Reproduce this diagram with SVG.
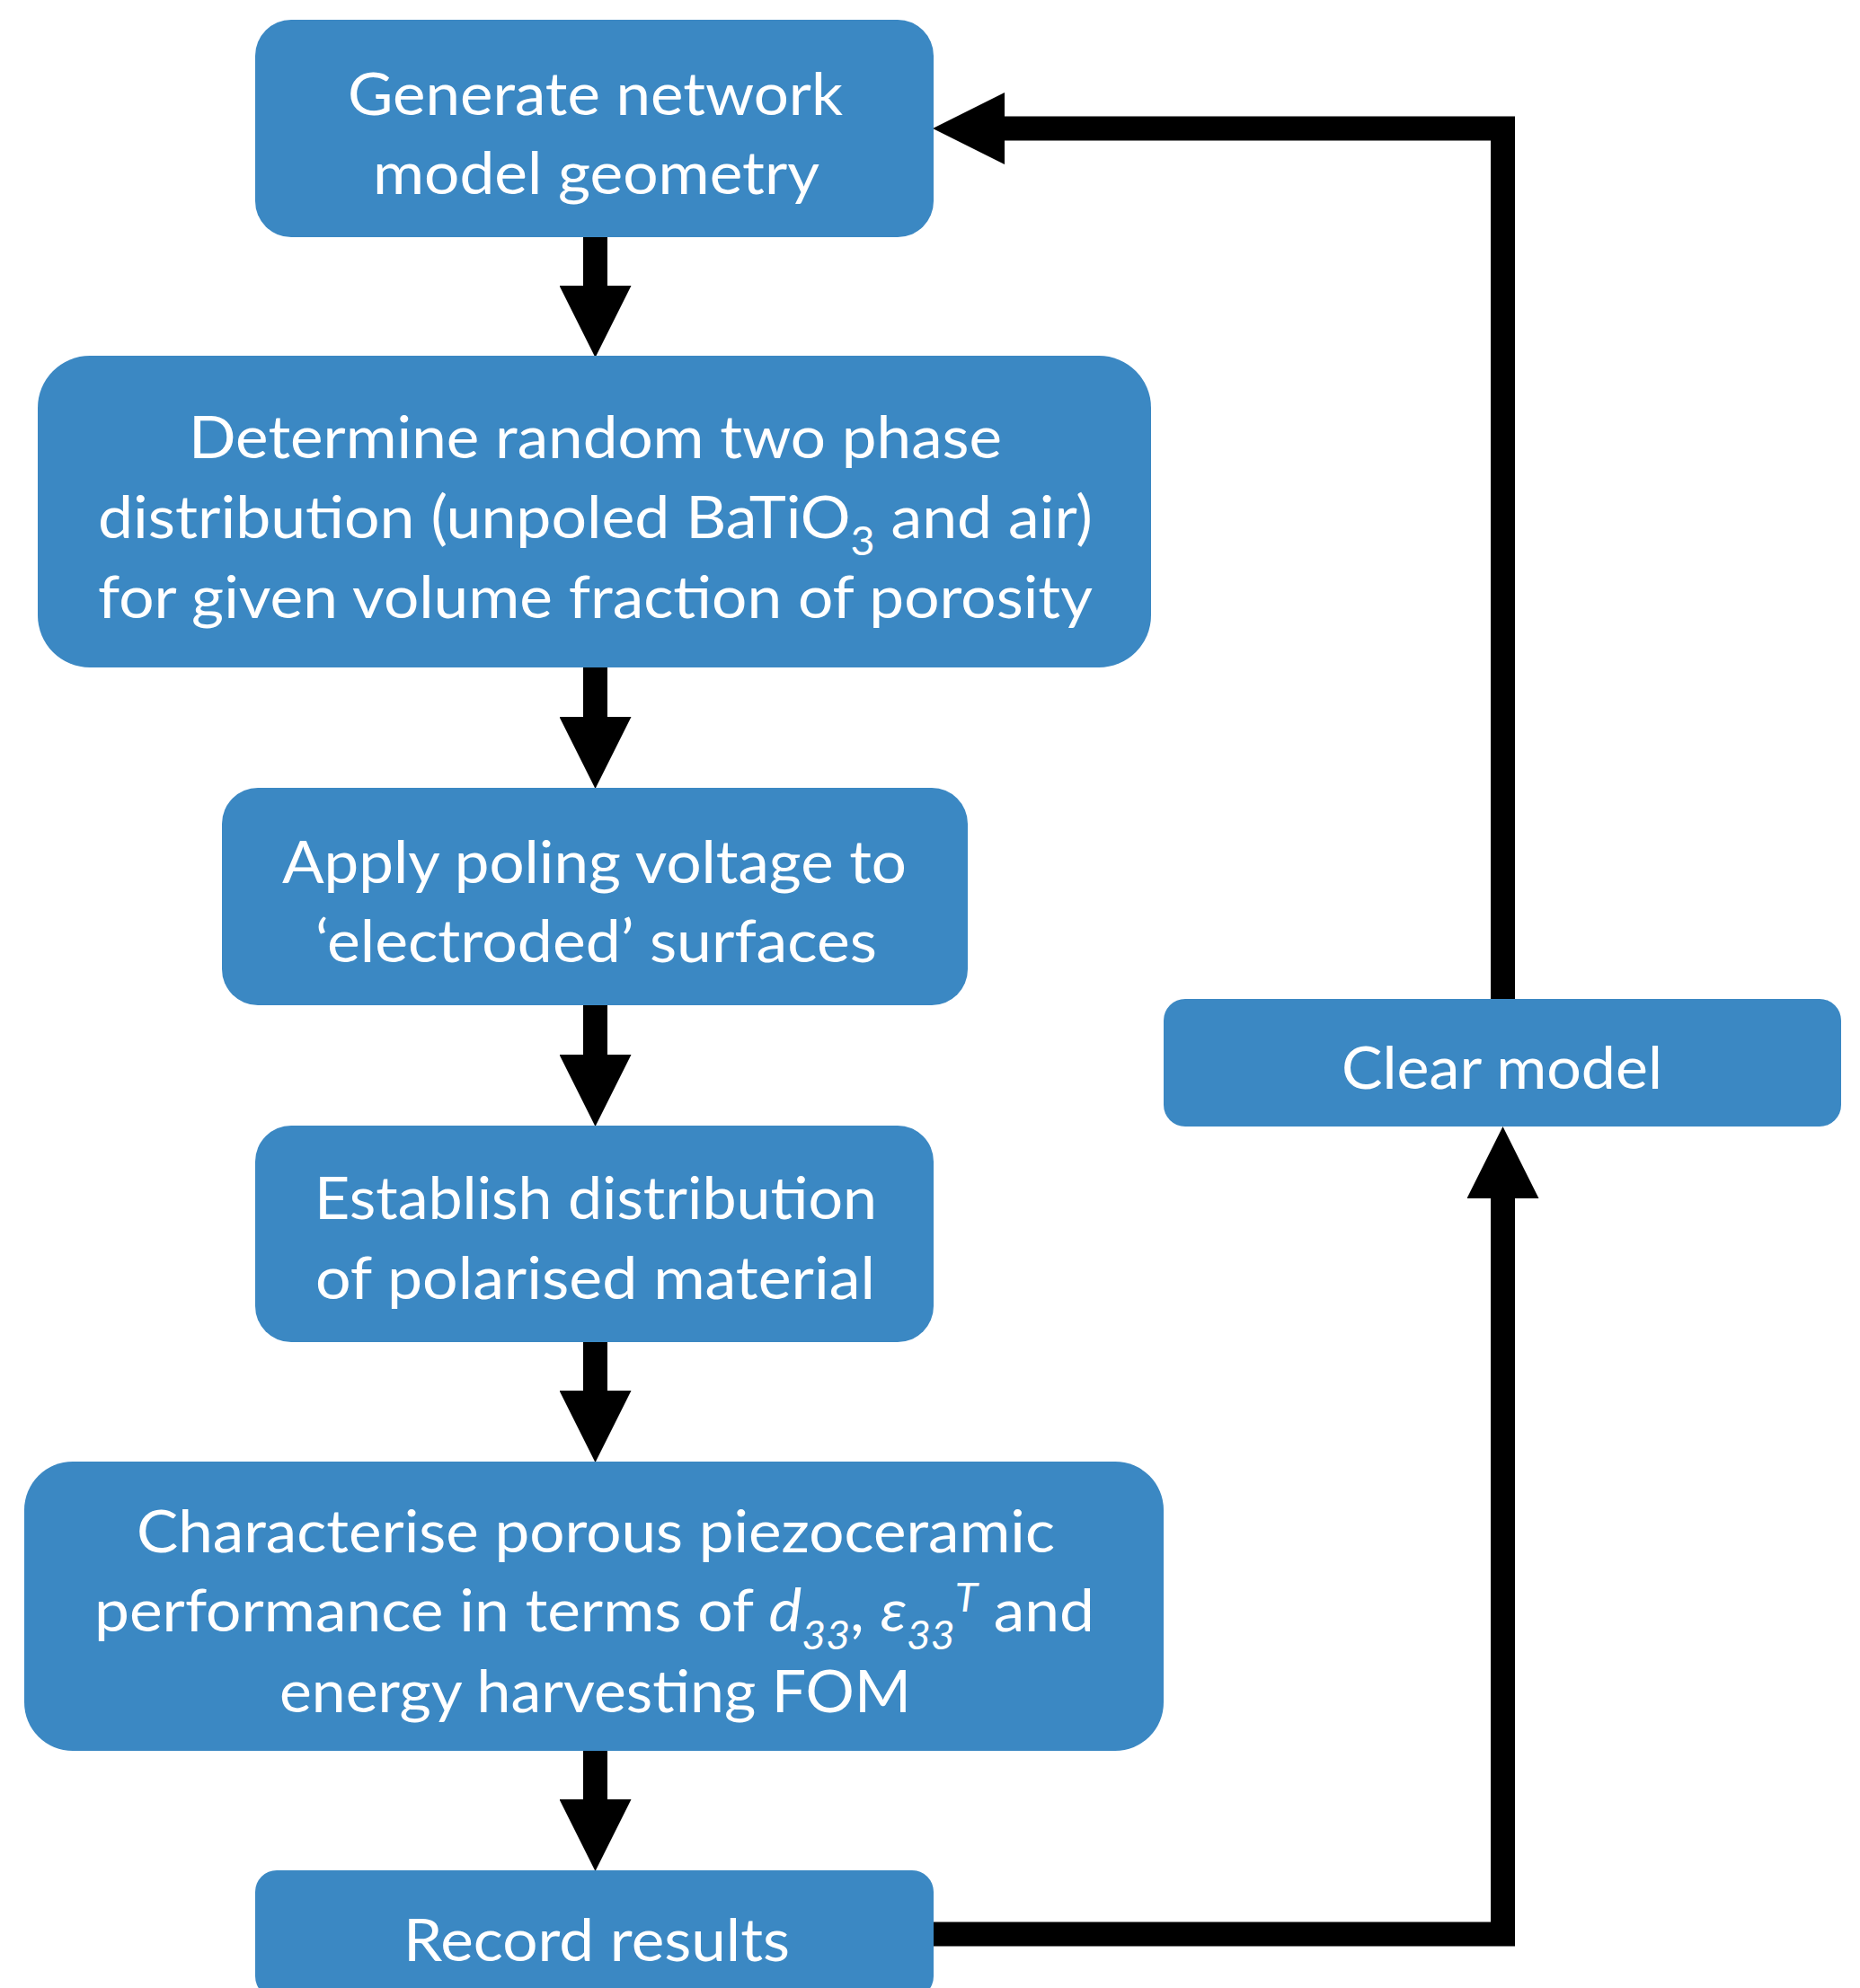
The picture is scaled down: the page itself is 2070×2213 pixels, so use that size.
<svg xmlns="http://www.w3.org/2000/svg" width="2070" height="2213" viewBox="0 0 2070 2213">
  <defs>
    <style>
      .box { fill: #3b88c3; }
      .t { font-family: Lato, "Open Sans", "Liberation Sans", sans-serif; font-size: 66px; fill: #ffffff; }
      .sub { font-size: 44px; }
      .it { font-style: italic; }
      .conn { fill: none; stroke: #000000; stroke-width: 27; stroke-linejoin: miter; }
    </style>
    <marker id="head" markerUnits="userSpaceOnUse" viewBox="0 0 80 80" markerWidth="80" markerHeight="80" refX="0" refY="40" orient="auto">
      <path d="M0,0 L80,40 L0,80 Z" fill="#000000"/>
    </marker>
  </defs>
  <rect width="2070" height="2213" fill="#ffffff"/>

  <g id="connectors">
    <path class="conn" d="M662.5,264 V318" marker-end="url(#head)"/>
    <path class="conn" d="M662.5,743 V798" marker-end="url(#head)"/>
    <path class="conn" d="M662.5,1119 V1174" marker-end="url(#head)"/>
    <path class="conn" d="M662.5,1494 V1548" marker-end="url(#head)"/>
    <path class="conn" d="M662.5,1949 V2003" marker-end="url(#head)"/>
    <path class="conn" d="M1039,2153 H1672.5 V1334" marker-end="url(#head)"/>
    <path class="conn" d="M1672.5,1112 V143 H1118" marker-end="url(#head)"/>
  </g>

  <g id="node-generate">
    <rect class="box" x="284" y="22" width="755" height="242" rx="40"/>
    <text class="t" x="387" y="128" textLength="551" lengthAdjust="spacingAndGlyphs">Generate network</text>
    <text class="t" x="415" y="216" textLength="497" lengthAdjust="spacingAndGlyphs">model geometry</text>
  </g>

  <g id="node-determine">
    <rect class="box" x="42" y="396" width="1239" height="347" rx="58"/>
    <text class="t" x="210" y="510" textLength="905" lengthAdjust="spacingAndGlyphs">Determine random two phase</text>
    <text class="t" x="109" y="599" textLength="1107" lengthAdjust="spacingAndGlyphs">distribution (unpoled BaTiO<tspan class="sub" dy="19">3</tspan><tspan dy="-19"> and air)</tspan></text>
    <text class="t" x="109" y="688" textLength="1107" lengthAdjust="spacingAndGlyphs">for given volume fraction of porosity</text>
  </g>

  <g id="node-apply">
    <rect class="box" x="247" y="877" width="830" height="242" rx="40"/>
    <text class="t" x="314" y="983" textLength="695" lengthAdjust="spacingAndGlyphs">Apply poling voltage to</text>
    <text class="t" x="351" y="1071" textLength="625" lengthAdjust="spacingAndGlyphs">‘electroded’ surfaces</text>
  </g>

  <g id="node-establish">
    <rect class="box" x="284" y="1253" width="755" height="241" rx="40"/>
    <text class="t" x="350" y="1357" textLength="626" lengthAdjust="spacingAndGlyphs">Establish distribution</text>
    <text class="t" x="351" y="1446" textLength="623" lengthAdjust="spacingAndGlyphs">of polarised material</text>
  </g>

  <g id="node-characterise">
    <rect class="box" x="27" y="1627" width="1268" height="322" rx="54"/>
    <text class="t" x="152" y="1728" textLength="1022" lengthAdjust="spacingAndGlyphs">Characterise porous piezoceramic</text>
    <text class="t" x="105" y="1816" textLength="1113" lengthAdjust="spacingAndGlyphs">performance in terms of <tspan class="it">d</tspan><tspan class="it sub" dy="20">33</tspan><tspan dy="-20">, </tspan><tspan class="it">ε</tspan><tspan class="it sub" dy="20">33</tspan><tspan class="it sub" dy="-42">T</tspan><tspan dy="22"> and</tspan></text>
    <text class="t" x="311" y="1906" textLength="703" lengthAdjust="spacingAndGlyphs">energy harvesting FOM</text>
  </g>

  <g id="node-record">
    <rect class="box" x="284" y="2082" width="755" height="142" rx="24"/>
    <text class="t" x="449" y="2183" textLength="430" lengthAdjust="spacingAndGlyphs">Record results</text>
  </g>

  <g id="node-clear">
    <rect class="box" x="1295" y="1112" width="754" height="142" rx="24"/>
    <text class="t" x="1493" y="1212" textLength="357" lengthAdjust="spacingAndGlyphs">Clear model</text>
  </g>
</svg>
